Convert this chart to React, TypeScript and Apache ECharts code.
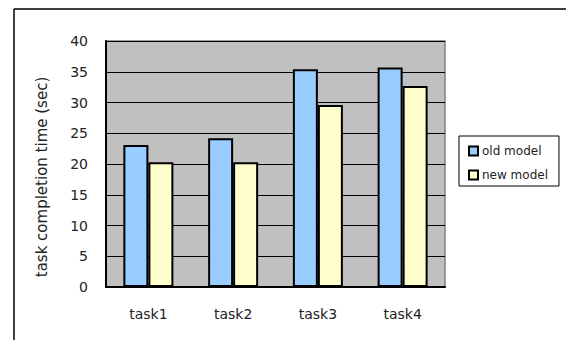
import React, { useEffect, useRef } from "react";
import * as echarts from "echarts";

const categories = ["task1", "task2", "task3", "task4"];
const oldModel = [23.1, 24.2, 35.4, 35.7];
const newModel = [20.3, 20.3, 29.6, 32.7];
const seriesNames = ["old model", "new model"];
const yAxisTitle = "task completion time (sec)";

export default function App() {
  const ref = useRef<HTMLDivElement>(null);
  useEffect(() => {
    document.body.style.margin = "0";
    const chart = echarts.init(ref.current!, null, { renderer: "svg" });
    const font = "DejaVu Sans";
    chart.setOption({
      animation: false,
      backgroundColor: "#ffffff",
      textStyle: { fontFamily: font },
      graphic: [
        { type: "line", shape: { x1: 14, y1: 9, x2: 566, y2: 9 }, style: { stroke: "#000", lineWidth: 1.5 } },
        { type: "line", shape: { x1: 14, y1: 9, x2: 14, y2: 340 }, style: { stroke: "#000", lineWidth: 1.5 } },
        {
          type: "text",
          x: 42,
          y: 177,
          rotation: Math.PI / 2,
          style: {
            text: yAxisTitle,
            fontFamily: font,
            fontSize: 15,
            fill: "#222",
            align: "center",
            verticalAlign: "middle",
          },
        },
      ],
      grid: {
        left: 106,
        top: 41,
        width: 339,
        height: 246,
        show: true,
        backgroundColor: "#c0c0c0",
        borderColor: "#808080",
        borderWidth: 1.5,
      },
      legend: {
        orient: "vertical",
        left: 459,
        top: 136,
        width: 100,
        padding: [9, 11, 5, 9],
        itemGap: 12,
        itemWidth: 9,
        itemHeight: 9,
        icon: "rect",
        backgroundColor: "#fff",
        borderColor: "#000",
        borderWidth: 1,
        textStyle: { fontFamily: font, fontSize: 12, color: "#222", padding: [0, 0, 0, -1] },
        data: seriesNames,
      },
      xAxis: {
        type: "category",
        data: categories,
        axisLine: { lineStyle: { color: "#000", width: 2 } },
        axisTick: { inside: true, length: 4, lineStyle: { color: "#000" } },
        axisLabel: { fontFamily: font, fontSize: 14, color: "#222", margin: 20 },
      },
      yAxis: {
        type: "value",
        min: 0,
        max: 40,
        interval: 5,
        axisLine: { show: true, lineStyle: { color: "#000", width: 2 } },
        axisTick: { show: true, inside: true, length: 5, lineStyle: { color: "#000" } },
        axisLabel: { fontFamily: font, fontSize: 14, color: "#222", margin: 18 },
        splitLine: { lineStyle: { color: "#000", width: 1 } },
      },
      series: [
        {
          name: seriesNames[0],
          type: "bar",
          data: oldModel,
          barWidth: 25,
          barGap: "0%",
          itemStyle: { color: "#99ccff", borderColor: "#000", borderWidth: 2 },
        },
        {
          name: seriesNames[1],
          type: "bar",
          data: newModel,
          barWidth: 25,
          itemStyle: { color: "#ffffcc", borderColor: "#000", borderWidth: 2 },
        },
      ],
    });
    return () => chart.dispose();
  }, []);
  return <div ref={ref} style={{ width: 566, height: 340 }} />;
}
